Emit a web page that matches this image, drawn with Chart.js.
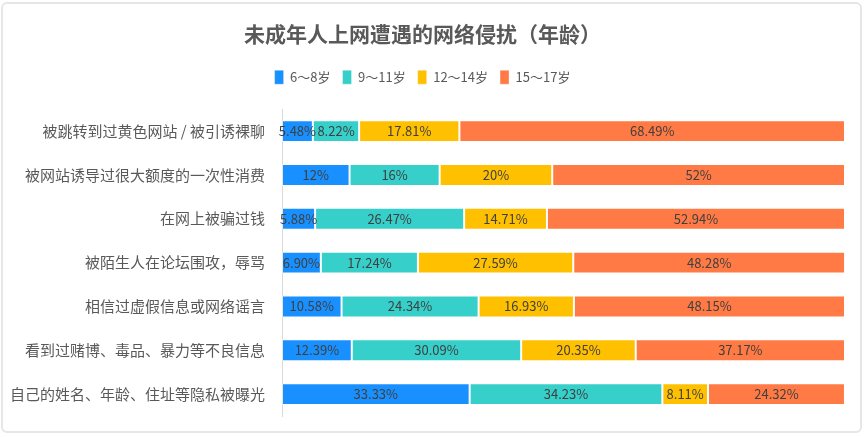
<!DOCTYPE html>
<html>
<head>
<meta charset="utf-8">
<script src="https://cdn.jsdelivr.net/npm/chart.js@4"></script>
<style>
  html, body { margin: 0; padding: 0; background: #fff; }
  #wrap { position: relative; width: 865px; height: 437px; }
  #frame {
    position: absolute; left: 1px; top: 2px; width: 857px; height: 427px;
    border: 2px solid #e6e6e6; border-radius: 6px; pointer-events: none;
  }
  canvas { position: absolute; left: 0; top: 0; }
</style>
</head>
<body>
<div id="wrap">
  <canvas id="chart" width="865" height="437"></canvas>
  <div id="frame"></div>
</div>
<script>
  const categories = [
    '被跳转到过黄色网站 / 被引诱裸聊',
    '被网站诱导过很大额度的一次性消费',
    '在网上被骗过钱',
    '被陌生人在论坛围攻，辱骂',
    '相信过虚假信息或网络谣言',
    '看到过赌博、毒品、暴力等不良信息',
    '自己的姓名、年龄、住址等隐私被曝光'
  ];

  // values kept as text so the labels show them as printed (12, 6.90 ...)
  const age6to8 = ['5.48', '12', '5.88', '6.90', '10.58', '12.39', '33.33'];
  const age9to11 = ['8.22', '16', '26.47', '17.24', '24.34', '30.09', '34.23'];
  const age12to14 = ['17.81', '20', '14.71', '27.59', '16.93', '20.35', '8.11'];
  const age15to17 = ['68.49', '52', '52.94', '48.28', '48.15', '37.17', '24.32'];

  const seriesNames = ['6～8岁', '9～11岁', '12～14岁', '15～17岁'];
  const seriesColors = ['#1890FF', '#36CFC9', '#FFC000', '#FF7A45'];
  const seriesValues = [age6to8, age9to11, age12to14, age15to17];

  const fontFamily = '"Noto Sans CJK SC", "Noto Sans", sans-serif';

  const barLabels = {
    id: 'barLabels',
    afterDatasetsDraw: (chart) => {
      const ctx = chart.ctx;
      ctx.save();
      ctx.font = '13px ' + fontFamily;
      ctx.fillStyle = '#404040';
      ctx.textAlign = 'center';
      ctx.textBaseline = 'middle';
      chart.data.datasets.forEach((ds, i) => {
        chart.getDatasetMeta(i).data.forEach((bar, j) => {
          const cx = (bar.x + bar.base) / 2;
          ctx.fillText(ds.rawText[j] + '%', cx, bar.y);
        });
      });
      ctx.restore();
    }
  };

  // extra room under the legend
  const legendGap = {
    id: 'legendGap',
    beforeInit: (chart) => {
      const fit = chart.legend.fit;
      chart.legend.fit = function () {
        fit.bind(chart.legend)();
        this.height += 15;
      };
    }
  };

  new Chart(document.getElementById('chart').getContext('2d'), {
    type: 'bar',
    data: {
      labels: categories,
      datasets: seriesValues.map((vals, i) => ({
        label: seriesNames[i],
        data: vals.map(Number),
        rawText: vals,
        backgroundColor: seriesColors[i],
        borderColor: 'rgba(255,255,255,0.35)',
        borderWidth: 1,
        borderSkipped: false,
        barPercentage: 0.5,
        categoryPercentage: 1
      }))
    },
    options: {
      indexAxis: 'y',
      responsive: false,
      animation: false,
      layout: { padding: { left: 0, right: 20, bottom: 21 } },
      scales: {
        x: { stacked: true, min: 0, max: 100, display: false },
        y: {
          stacked: true,
          grid: { display: false },
          border: { display: true, color: '#d9d9d9', width: 1 },
          ticks: {
            color: '#595959',
            padding: 9,
            font: { size: 15, family: fontFamily }
          },
          afterFit: (scale) => { scale.width = 282; }
        }
      },
      plugins: {
        title: {
          display: true,
          text: '未成年人上网遭遇的网络侵扰（年龄）',
          color: '#595959',
          font: { size: 21, weight: 'bold', family: fontFamily },
          padding: { top: 21, bottom: 12 }
        },
        legend: {
          labels: {
            color: '#595959',
            boxWidth: 9,
            boxHeight: 14,
            padding: 12,
            font: { size: 13, family: fontFamily }
          }
        },
        tooltip: { enabled: false }
      }
    },
    plugins: [barLabels, legendGap]
  });
</script>
</body>
</html>
